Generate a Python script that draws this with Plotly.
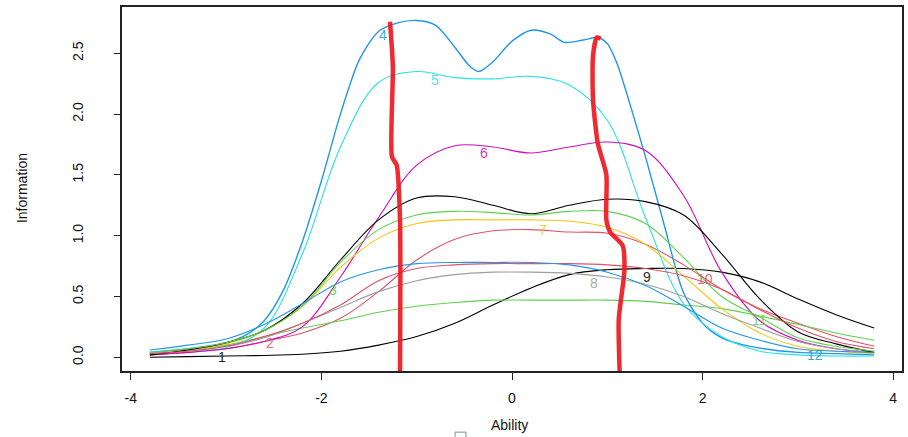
import plotly.graph_objects as go

# ---------------- data ----------------
ability = [-3.8, -3.4, -3.0, -2.6, -2.2, -1.8, -1.4, -1.0, -0.6, -0.2,
           0.2, 0.6, 1.0, 1.4, 1.8, 2.2, 2.6, 3.0, 3.4, 3.8]

item1 = [0.0, 0.005, 0.01, 0.015, 0.025, 0.05, 0.10, 0.17, 0.28, 0.43,
         0.57, 0.68, 0.72, 0.73, 0.73, 0.70, 0.62, 0.48, 0.35, 0.24]
item2 = [0.02, 0.04, 0.07, 0.13, 0.20, 0.32, 0.54, 0.80, 0.97, 1.04,
         1.05, 1.03, 1.02, 0.93, 0.76, 0.56, 0.40, 0.28, 0.17, 0.09]
item3 = [0.03, 0.06, 0.10, 0.17, 0.24, 0.30, 0.37, 0.42, 0.45, 0.47,
         0.47, 0.47, 0.47, 0.46, 0.43, 0.40, 0.34, 0.27, 0.20, 0.14]
item5 = [0.03, 0.05, 0.08, 0.24, 0.85, 1.73, 2.26, 2.35, 2.30, 2.29,
         2.31, 2.24, 1.95, 1.15, 0.44, 0.17, 0.05, 0.02, 0.01, 0.01]
item6 = [0.02, 0.04, 0.07, 0.13, 0.25, 0.66, 1.15, 1.58, 1.74, 1.73,
         1.68, 1.73, 1.77, 1.70, 1.33, 0.70, 0.30, 0.14, 0.07, 0.04]
item7 = [0.03, 0.06, 0.11, 0.22, 0.42, 0.74, 0.98, 1.10, 1.13, 1.13,
         1.13, 1.12, 1.07, 0.93, 0.67, 0.40, 0.20, 0.09, 0.05, 0.03]
item8 = [0.03, 0.05, 0.09, 0.16, 0.28, 0.41, 0.54, 0.63, 0.68, 0.70,
         0.70, 0.69, 0.66, 0.60, 0.50, 0.36, 0.24, 0.13, 0.07, 0.04]
item9 = [0.02, 0.06, 0.12, 0.22, 0.44, 0.80, 1.13, 1.31, 1.32, 1.25,
         1.18, 1.25, 1.30, 1.28, 1.17, 0.85, 0.48, 0.21, 0.11, 0.04]
item10 = [0.03, 0.05, 0.09, 0.17, 0.28, 0.43, 0.63, 0.73, 0.76, 0.77,
          0.77, 0.77, 0.76, 0.73, 0.67, 0.56, 0.39, 0.24, 0.13, 0.07]
item11 = [0.04, 0.07, 0.12, 0.22, 0.42, 0.78, 1.05, 1.17, 1.20, 1.19,
          1.17, 1.20, 1.20, 1.10, 0.82, 0.50, 0.33, 0.16, 0.09, 0.05]
item12 = [0.06, 0.10, 0.15, 0.27, 0.44, 0.62, 0.72, 0.77, 0.78, 0.78,
          0.78, 0.76, 0.70, 0.59, 0.42, 0.24, 0.14, 0.07, 0.05, 0.04]

item4_x = [-3.8, -3.4, -3.0, -2.8, -2.6, -2.4, -2.2, -2.0, -1.8, -1.6, -1.4, -1.2,
           -1.0, -0.8, -0.6, -0.45, -0.35, -0.2, 0.0, 0.2, 0.4, 0.55, 0.75, 0.9,
           1.0, 1.1, 1.2, 1.4, 1.6, 1.8, 2.0, 2.2, 2.5, 3.0, 3.4, 3.8]
item4_y = [0.04, 0.07, 0.12, 0.18, 0.30, 0.55, 0.95, 1.45, 2.00, 2.45, 2.68, 2.75,
           2.77, 2.73, 2.55, 2.40, 2.35, 2.43, 2.60, 2.69, 2.66, 2.59, 2.61, 2.63,
           2.58, 2.42, 2.18, 1.65, 1.08, 0.53, 0.28, 0.16, 0.09, 0.04, 0.03, 0.02]

# hand-drawn red cut lines
cut1_x = [-1.28, -1.25, -1.26, -1.21, -1.175, -1.175]
cut1_y = [2.76, 2.39, 1.65, 1.58, 1.13, -0.13]
cut2_x = [0.93, 0.89, 0.85, 0.85, 0.90, 0.99, 0.99, 1.03, 1.16, 1.18, 1.12, 1.13]
cut2_y = [2.62, 2.63, 2.48, 2.12, 1.76, 1.50, 1.13, 1.03, 0.92, 0.72, 0.31, -0.13]

labels = ["1", "2", "3", "4", "5", "6", "7", "8", "9", "10", "11", "12"]
label_x = [-3.04, -2.54, -1.88, -1.35, -0.81, -0.29, 0.33, 0.86, 1.42, 2.03, 2.60, 3.18]
label_y = [0.0, 0.12, 0.55, 2.65, 2.28, 1.68, 1.05, 0.61, 0.66, 0.64, 0.31, 0.02]

x_ticks = [-4, -2, 0, 2, 4]
y_ticks = [0.0, 0.5, 1.0, 1.5, 2.0, 2.5]

# ---------------- styles ----------------
pal = ["#000000", "#DF536B", "#61D04F", "#2297E6", "#28E2E5", "#CD0BBC",
       "#F5C710", "#9E9E9E", "#000000", "#DF536B", "#61D04F", "#2297E6"]
series = [item1, item2, item3, None, item5, item6, item7, item8, item9, item10, item11, item12]

fig = go.Figure()
for i, ys in enumerate(series):
    if ys is None:
        fig.add_trace(go.Scatter(x=item4_x, y=item4_y, mode="lines",
                                 line=dict(color=pal[i], width=1.4, shape="spline", smoothing=0.8),
                                 showlegend=False, hoverinfo="skip"))
    else:
        fig.add_trace(go.Scatter(x=ability, y=ys, mode="lines",
                                 line=dict(color=pal[i], width=1.1, shape="spline", smoothing=1.0),
                                 showlegend=False, hoverinfo="skip"))

for cx, cy in [(cut1_x, cut1_y), (cut2_x, cut2_y)]:
    fig.add_trace(go.Scatter(x=cx, y=cy, mode="lines",
                             line=dict(color="rgba(238,24,32,0.92)", width=4.5, shape="spline", smoothing=0.6),
                             showlegend=False, hoverinfo="skip"))

for t, lx, ly, c in zip(labels, label_x, label_y, pal):
    fig.add_annotation(x=lx, y=ly, text=t, showarrow=False, xref="x", yref="y",
                       font=dict(family="Liberation Sans, Arial, sans-serif", size=14, color=c),
                       opacity=0.85)

font = dict(family="Liberation Sans, Arial, sans-serif", size=14, color="#111111")

fig.add_annotation(text="Ability", xref="paper", yref="paper", x=0.497, y=-0.148,
                   showarrow=False, font=font, xanchor="center", yanchor="middle")
fig.add_annotation(text="Information", xref="paper", yref="paper", x=-0.128, y=0.503,
                   showarrow=False, font=font, textangle=-90, xanchor="center", yanchor="middle")

fig.add_shape(type="rect", xref="paper", yref="paper", x0=0.427, x1=0.441, y0=-0.19, y1=-0.168,
              line=dict(color="#6f8fb0", width=1), fillcolor="white")

fig.update_xaxes(range=[-4.092, 4.092], tickvals=x_ticks, ticktext=[str(v) for v in x_ticks],
                 showgrid=False, zeroline=False, showline=True, linecolor="#222222", linewidth=1.5,
                 mirror=True, ticks="outside", ticklen=7, tickcolor="#222222", tickwidth=1.2,
                 tickfont=font, ticklabelstandoff=6)
fig.update_yaxes(range=[-0.113, 2.881], tickvals=y_ticks, ticktext=[f"{v:.1f}" for v in y_ticks],
                 showgrid=False, zeroline=False, showline=True, linecolor="#222222", linewidth=1.5,
                 mirror=True, ticks="outside", ticklen=6, tickcolor="#222222", tickwidth=1.2,
                 tickfont=font, tickangle=-90, ticklabelstandoff=26)

fig.update_layout(width=908, height=437,
                  margin=dict(l=122, r=6, t=7, b=66, autoexpand=False),
                  plot_bgcolor="white", paper_bgcolor="white", showlegend=False)

fig.write_html("out.html", config={"displayModeBar": False},
               post_script="document.body.style.margin='0';document.body.style.padding='0';")
